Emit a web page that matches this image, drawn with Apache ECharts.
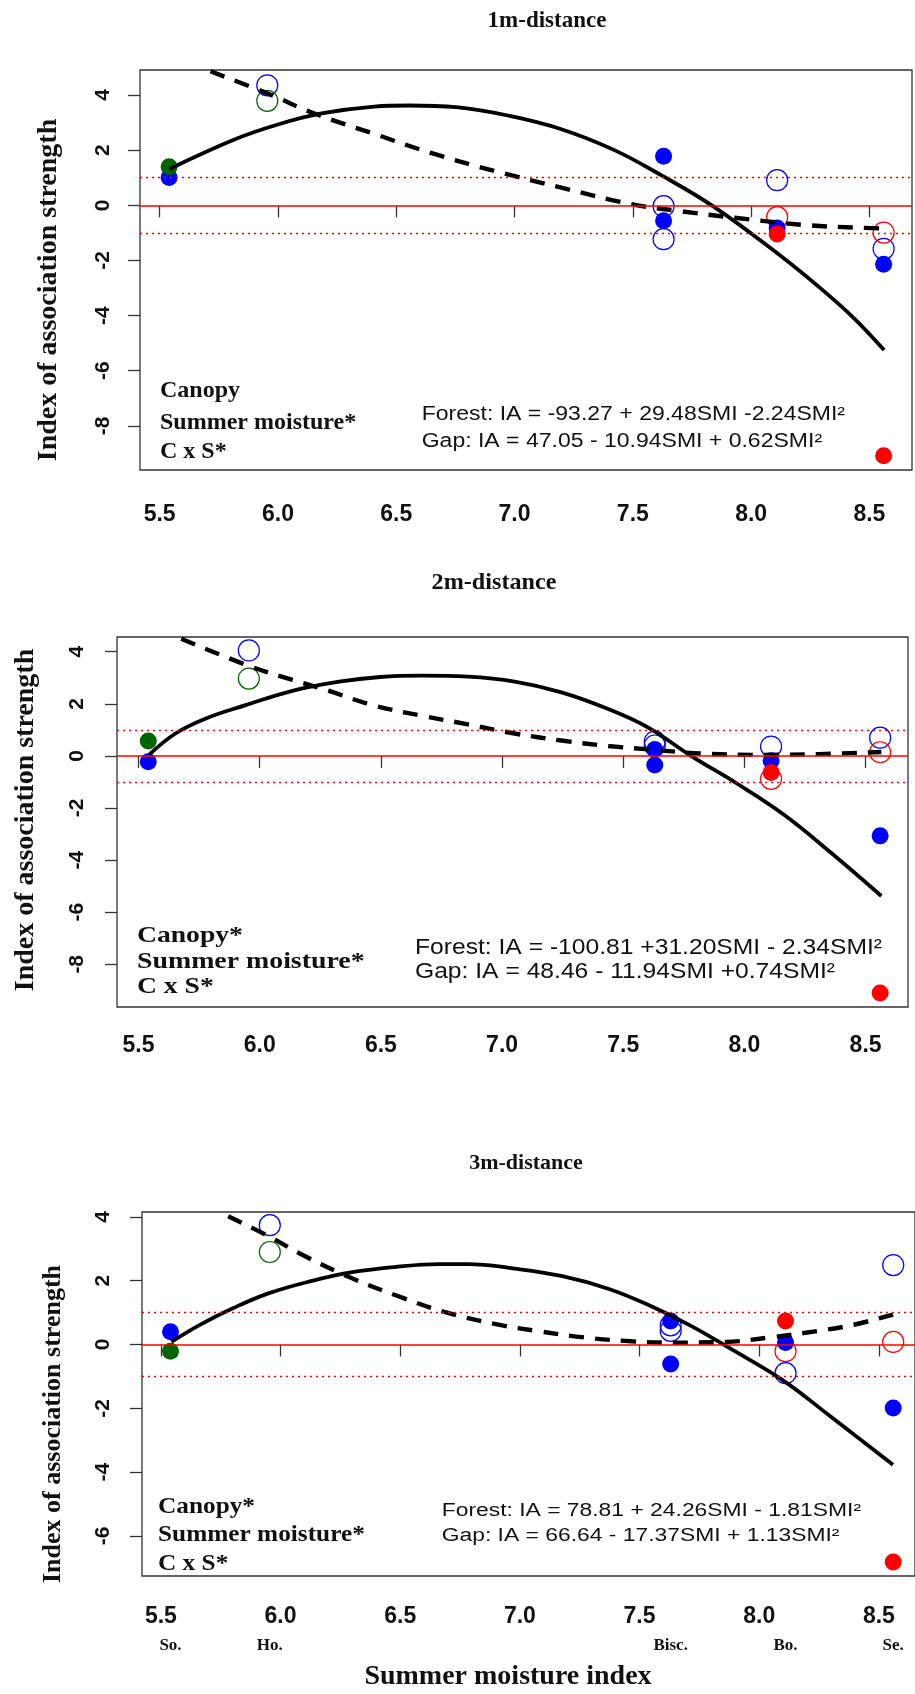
<!DOCTYPE html>
<html>
<head>
<meta charset="utf-8">
<script src="https://cdn.jsdelivr.net/npm/echarts@6/dist/echarts.min.js"></script>
<style>
  html, body { margin: 0; padding: 0; background: #ffffff; }
  #chart { width: 915px; height: 1694px; }
</style>
</head>
<body>
<div id="chart"></div>
<script>
// ---------------- data ----------------
const siteX = [5.54, 5.955, 7.63, 8.11, 8.56];
const siteNames = ['So.', 'Ho.', 'Bisc.', 'Bo.', 'Se.'];
const xTicks = [5.5, 6.0, 6.5, 7.0, 7.5, 8.0, 8.5];
const yTicks12 = [4, 2, 0, -2, -4, -6, -8];
const yTicks3 = [4, 2, 0, -2, -4, -6];
const refLines = [0, 1, -1];
const panelTitles = ['1m-distance', '2m-distance', '3m-distance'];
const yTitle = 'Index of association strength';
const xTitle = 'Summer moisture index';

// points: [site index, index of association]
const p1BlueOpen = [[1, 4.35], [2, -0.03], [2, -1.23], [3, 0.91], [4, -1.58]];
const p1GreenOpen = [[1, 3.79]];
const p1RedOpen = [[3, -0.43], [4, -0.99]];
const p1BlueFilled = [[0, 1.01], [2, 1.78], [2, -0.56], [3, -0.82], [4, -2.14]];
const p1GreenFilled = [[0, 1.40]];
const p1RedFilled = [[3, -1.04], [4, -9.08]];

const p2BlueOpen = [[1, 4.05], [2, 0.55], [2, 0.40], [3, 0.36], [4, 0.70]];
const p2GreenOpen = [[1, 2.97]];
const p2RedOpen = [[3, -0.88], [4, 0.14]];
const p2BlueFilled = [[0, -0.22], [2, 0.25], [2, -0.35], [3, -0.19], [4, -3.07]];
const p2GreenFilled = [[0, 0.57]];
const p2RedFilled = [[3, -0.64], [4, -9.10]];

const p3BlueOpen = [[1, 3.74], [2, 0.60], [2, 0.43], [3, -0.90], [4, 2.49]];
const p3GreenOpen = [[1, 2.90]];
const p3RedOpen = [[3, -0.21], [4, 0.08]];
const p3BlueFilled = [[0, 0.40], [2, 0.74], [2, -0.61], [3, 0.06], [4, -1.99]];
const p3GreenFilled = [[0, -0.21]];
const p3RedFilled = [[3, 0.74], [4, -6.82]];

// fitted curves: [SMI, IA]
const p1Forest = [[5.542, 1.32], [5.814, 2.38], [6.0, 2.93], [6.184, 3.33], [6.407, 3.58], [6.555, 3.62],
  [6.753, 3.56], [6.975, 3.25], [7.198, 2.76], [7.42, 2.01], [7.618, 1.10], [7.84, -0.04],
  [8.112, -1.75], [8.285, -2.95], [8.433, -4.08], [8.562, -5.25]];
const p1Gap = [[5.715, 4.86], [5.955, 4.06], [6.16, 3.31], [6.407, 2.59], [6.654, 1.88], [6.926, 1.22],
  [7.198, 0.64], [7.494, 0.04], [7.69, -0.2], [7.94, -0.46], [8.235, -0.72], [8.482, -0.82], [8.56, -0.84]];

const p2Forest = [[5.543, 0.04], [5.652, 0.86], [5.773, 1.42], [5.942, 1.95], [6.135, 2.50], [6.328, 2.85],
  [6.497, 3.03], [6.666, 3.08], [6.859, 3.04], [7.052, 2.85], [7.245, 2.44], [7.438, 1.80],
  [7.607, 1.07], [7.776, 0.02], [7.969, -1.06], [8.162, -2.25], [8.355, -3.70], [8.565, -5.38]];
const p2Gap = [[5.676, 4.50], [5.951, 3.47], [6.135, 2.92], [6.28, 2.51], [6.473, 1.93], [6.666, 1.55],
  [6.859, 1.21], [7.052, 0.86], [7.245, 0.59], [7.438, 0.38], [7.631, 0.23], [7.824, 0.09],
  [8.066, 0.04], [8.307, 0.07], [8.565, 0.15]];

const p3Forest = [[5.544, 0.08], [5.659, 0.60], [5.805, 1.15], [5.952, 1.61], [6.123, 1.98], [6.294, 2.26],
  [6.49, 2.44], [6.66, 2.52], [6.783, 2.52], [6.978, 2.38], [7.173, 2.15], [7.369, 1.75],
  [7.54, 1.23], [7.711, 0.60], [7.882, -0.14], [8.101, -1.13], [8.297, -2.25], [8.559, -3.77]];
const p3Gap = [[5.781, 4.02], [5.954, 3.38], [6.099, 2.78], [6.294, 2.09], [6.49, 1.52], [6.685, 1.02],
  [6.905, 0.63], [7.076, 0.42], [7.271, 0.22], [7.467, 0.10], [7.638, 0.06], [7.858, 0.08],
  [8.053, 0.23], [8.249, 0.43], [8.395, 0.62], [8.559, 0.94]];

const notes1 = ['Canopy', 'Summer moisture*', 'C x S*'];
const notes2 = ['Canopy*', 'Summer moisture*', 'C x S*'];
const notes3 = ['Canopy*', 'Summer moisture*', 'C x S*'];
const eq1 = ['Forest: IA = -93.27 + 29.48SMI -2.24SMI\u00B2', 'Gap: IA = 47.05 - 10.94SMI + 0.62SMI\u00B2'];
const eq2 = ['Forest: IA = -100.81 +31.20SMI - 2.34SMI\u00B2', 'Gap: IA = 48.46 - 11.94SMI +0.74SMI\u00B2'];
const eq3 = ['Forest: IA = 78.81 + 24.26SMI - 1.81SMI\u00B2', 'Gap: IA = 66.64 - 17.37SMI + 1.13SMI\u00B2'];

// ---------------- layout & style ----------------
const SERIF = "'Liberation Serif', 'Times New Roman', serif";
const SANS = "'Liberation Sans', Arial, sans-serif";
const BLUE = '#0000ff', GREEN = '#006400', RED = '#ff0000', AXC = '#333333';

const panels = [
  { grid: { left: 140, top: 70, width: 772, height: 400 }, x: [5.417, 8.68], y: [-9.60, 4.907], yTicks: yTicks12,
    xMargin: 33, yMargin: 26,
    pts: [p1BlueOpen, p1GreenOpen, p1RedOpen, p1BlueFilled, p1GreenFilled, p1RedFilled], forest: p1Forest, gap: p1Gap },
  { grid: { left: 117, top: 637, width: 791, height: 370 }, x: [5.411, 8.675], y: [-9.64, 4.565], yTicks: yTicks12,
    xMargin: 27, yMargin: 29,
    pts: [p2BlueOpen, p2GreenOpen, p2RedOpen, p2BlueFilled, p2GreenFilled, p2RedFilled], forest: p2Forest, gap: p2Gap },
  { grid: { left: 142, top: 1212, width: 773, height: 364 }, x: [5.421, 8.651], y: [-7.257, 4.154], yTicks: yTicks3,
    xMargin: 29, yMargin: 28,
    pts: [p3BlueOpen, p3GreenOpen, p3RedOpen, p3BlueFilled, p3GreenFilled, p3RedFilled], forest: p3Forest, gap: p3Gap }
];

const pointStyles = [
  { open: true, color: BLUE }, { open: true, color: GREEN }, { open: true, color: RED },
  { open: false, color: BLUE }, { open: false, color: GREEN }, { open: false, color: RED }
];

const grid = [], xAxis = [], yAxis = [], series = [];
panels.forEach((p, i) => {
  grid.push(Object.assign({ show: true, borderColor: AXC, borderWidth: 1.3, backgroundColor: 'transparent', containLabel: false }, p.grid));
  xAxis.push({
    type: 'value', gridIndex: i, min: p.x[0], max: p.x[1],
    axisLine: { show: false }, splitLine: { show: false },
    axisTick: { show: true, customValues: xTicks, length: 12, lineStyle: { color: AXC, width: 1.3 } },
    axisLabel: { customValues: xTicks, formatter: v => Number(v).toFixed(1), margin: p.xMargin,
      fontFamily: SANS, fontWeight: 'bold', fontSize: 23, color: '#111' }
  });
  yAxis.push({
    type: 'value', gridIndex: i, min: p.y[0], max: p.y[1],
    axisLine: { show: false }, splitLine: { show: false },
    axisTick: { show: true, customValues: p.yTicks, length: 12, lineStyle: { color: AXC, width: 1.3 } },
    axisLabel: { customValues: p.yTicks, rotate: 90, formatter: v => String(v), margin: p.yMargin,
      fontFamily: SANS, fontWeight: 'bold', fontSize: 21, color: '#111' }
  });

  // reference lines
  series.push({
    type: 'line', xAxisIndex: i, yAxisIndex: i, data: [], z: 1, silent: true,
    markLine: {
      silent: true, symbol: ['none', 'none'], label: { show: false }, animation: false,
      data: refLines.map(v => ({ yAxis: v, lineStyle: { color: RED, opacity: 1, width: v === 0 ? 1.6 : 1.3, type: v === 0 ? 'solid' : [2, 4] } }))
    }
  });
  // points
  p.pts.forEach((arr, k) => {
    const st = pointStyles[k];
    series.push({
      type: 'scatter', xAxisIndex: i, yAxisIndex: i, z: 2, silent: true,
      symbol: 'circle', symbolSize: st.open ? 21 : 17,
      itemStyle: st.open ? { color: 'rgba(0,0,0,0)', borderColor: st.color, borderWidth: 1.2, opacity: 1 }
                         : { color: st.color, borderWidth: 0, opacity: 1 },
      data: arr.map(d => [siteX[d[0]], d[1]])
    });
  });
  // fitted curves
  series.push({
    type: 'line', xAxisIndex: i, yAxisIndex: i, z: 3, silent: true, symbol: 'none', smooth: 0.4,
    lineStyle: { color: '#000', width: 3.8 }, data: p.forest
  });
  series.push({
    type: 'line', xAxisIndex: i, yAxisIndex: i, z: 3, silent: true, symbol: 'none', smooth: 0.4,
    lineStyle: { color: '#000', width: 4.4, type: [15, 11], cap: 'butt' }, data: p.gap
  });
});

// site names under the last panel
xAxis.push({
  type: 'value', gridIndex: 2, min: panels[2].x[0], max: panels[2].x[1], position: 'bottom',
  axisLine: { show: false }, axisTick: { show: false }, splitLine: { show: false },
  axisLabel: { customValues: siteX, margin: 61,
    formatter: v => { const k = siteX.findIndex(s => Math.abs(s - v) < 1e-6); return k >= 0 ? siteNames[k] : ''; },
    fontFamily: SERIF, fontWeight: 'bold', fontSize: 17, color: '#111' }
});

// ---------------- texts ----------------
function txt(t, x, y, size, opts) {
  opts = opts || {};
  return {
    type: 'text', x: x, y: y, rotation: opts.rotation || 0, scaleX: opts.scaleX || 1, silent: true, z: 10,
    style: { text: t, x: 0, y: 0, fill: opts.fill || '#111', fontFamily: opts.family || SERIF,
      fontWeight: opts.weight || 'bold', fontSize: size,
      textAlign: opts.align || 'left', textVerticalAlign: 'middle' }
  };
}
const graphic = [
  txt(panelTitles[0], 547, 21, 23, { align: 'center' }),
  txt(panelTitles[1], 494, 583, 23, { align: 'center', scaleX: 1.05 }),
  txt(panelTitles[2], 526, 1163, 22, { align: 'center' }),
  txt(yTitle, 49, 290, 28, { align: 'center', rotation: Math.PI / 2 }),
  txt(yTitle, 26, 820, 28, { align: 'center', rotation: Math.PI / 2 }),
  txt(yTitle, 53, 1424, 26, { align: 'center', rotation: Math.PI / 2 }),
  txt(xTitle, 508, 1677, 28, { align: 'center' }),

  txt(notes1[0], 160, 391, 24), txt(notes1[1], 160, 422.5, 24), txt(notes1[2], 160, 452, 24),
  txt(eq1[0], 421.7, 415, 19.5, { family: SANS, weight: 'normal', scaleX: 1.18 }),
  txt(eq1[1], 421.7, 441.7, 19.5, { family: SANS, weight: 'normal', scaleX: 1.18 }),

  txt(notes2[0], 137, 936, 24, { scaleX: 1.15 }), txt(notes2[1], 137, 962, 24, { scaleX: 1.16 }), txt(notes2[2], 137, 987, 24, { scaleX: 1.15 }),
  txt(eq2[0], 415, 947.5, 22, { family: SANS, weight: 'normal', scaleX: 1.12 }),
  txt(eq2[1], 415, 971.8, 22, { family: SANS, weight: 'normal', scaleX: 1.12 }),

  txt(notes3[0], 158, 1507, 23, { scaleX: 1.1 }), txt(notes3[1], 158, 1535.5, 23, { scaleX: 1.1 }), txt(notes3[2], 158, 1564, 23, { scaleX: 1.1 }),
  txt(eq3[0], 441.7, 1511, 18, { family: SANS, weight: 'normal', scaleX: 1.27 }),
  txt(eq3[1], 441.7, 1535.6, 18, { family: SANS, weight: 'normal', scaleX: 1.27 })
];

const chart = echarts.init(document.getElementById('chart'), null, { renderer: 'canvas', width: 915, height: 1694 });
chart.setOption({
  animation: false,
  backgroundColor: '#ffffff',
  grid: grid, xAxis: xAxis, yAxis: yAxis, series: series, graphic: graphic
});
</script>
</body>
</html>
